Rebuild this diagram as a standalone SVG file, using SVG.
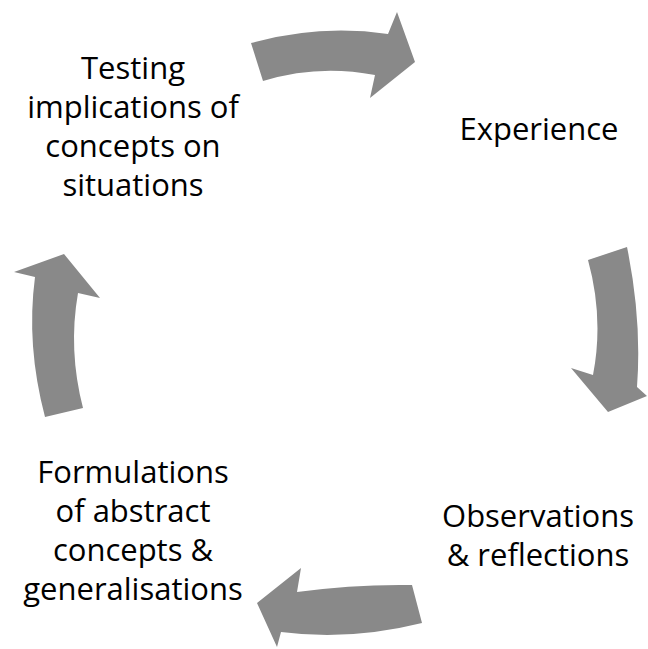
<svg xmlns="http://www.w3.org/2000/svg" width="648" height="649" viewBox="0 0 648 649">
<style>
.lbl{font-family:"Open Sans","Liberation Sans",sans-serif;font-size:31px;fill:#000;text-anchor:middle}
.arr{fill:#898989;stroke:none}
</style>
<rect width="648" height="649" fill="#fff"/>
<g id="connectors">
<path id="arrow-top" class="arr" d="M251,43 Q320,24 388,34 L397,12 L415,62 L370,98 L375,75 Q318,64 263,81 Z"/>
<path id="arrow-right" class="arr" d="M588,260 L627,247 Q642,320 637,387 L647,396 L608,412 L571,368 L593,375 Q604,318 588,260 Z"/>
<path id="arrow-bottom" class="arr" d="M412,585 Q355,584 297,592 L301,568 L257,603 L277,647 L281,632 Q350,641 422,623 Z"/>
<path id="arrow-left" class="arr" d="M45,417 Q26,345 35,277 L14,272 L64,254 L100,298 L78,293 Q68,350 83,408 Z"/>
</g>
<g id="node-testing">
<text class="lbl" x="133" y="79">Testing</text>
<text class="lbl" x="133" y="118">implications of</text>
<text class="lbl" x="133" y="157">concepts on</text>
<text class="lbl" x="133" y="196">situations</text>
</g>
<g id="node-experience">
<text class="lbl" x="539" y="140">Experience</text>
</g>
<g id="node-observations">
<text class="lbl" x="538" y="527">Observations</text>
<text class="lbl" x="538" y="566">&amp; reflections</text>
</g>
<g id="node-formulations">
<text class="lbl" x="133" y="483">Formulations</text>
<text class="lbl" x="133" y="522">of abstract</text>
<text class="lbl" x="133" y="561">concepts &amp;</text>
<text class="lbl" x="133" y="600">generalisations</text>
</g>
</svg>
